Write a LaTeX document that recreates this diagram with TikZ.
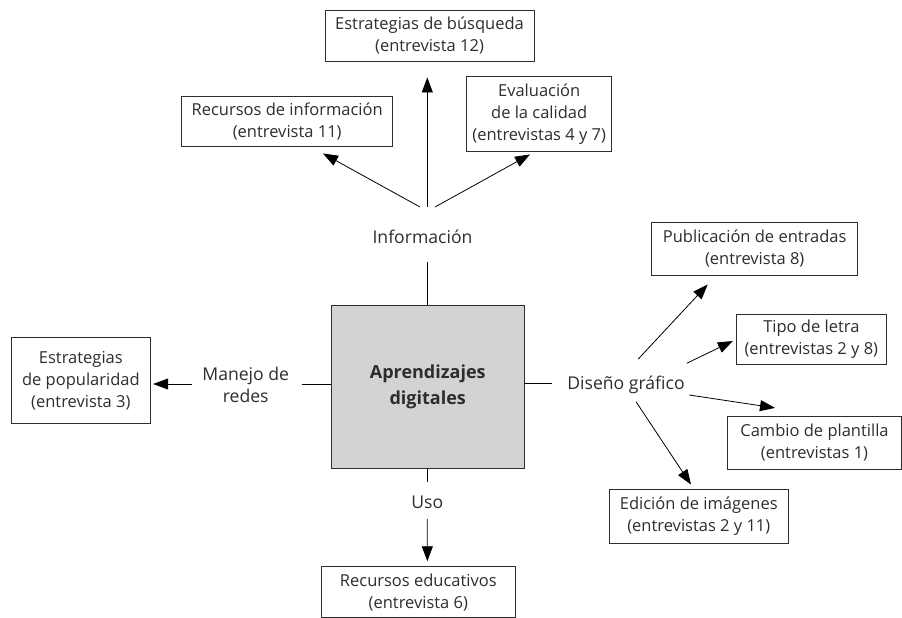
\documentclass[tikz,border=0pt]{standalone}
\usepackage{fontspec}
\setmainfont{Open Sans}
\usetikzlibrary{arrows.meta}
\definecolor{boxgray}{RGB}{211,211,213}
\definecolor{ink}{RGB}{45,45,45}
\begin{document}
\begin{tikzpicture}[x=1pt,y=-1pt,
  every node/.style={font=\fontsize{16.5}{22}\selectfont, text=ink, align=center, inner sep=0pt},
  lbl/.style={font=\fontsize{17.6}{22}\selectfont},
  bx/.style 2 args={draw=ink, line width=0.9pt, minimum width=#1pt, minimum height=#2pt},
  arr/.style={-{Triangle[length=15pt,width=11pt]}, line width=0.8pt, draw=black},
  ln/.style={line width=0.8pt, draw=black}]
\useasboundingbox (0,0) rectangle (902,618);
% central box
\node[bx={192.5}{162.8}, fill=boxgray, font=\bfseries\fontsize{18}{26}\selectfont] (central) at (427.75,386.9) {Aprendizajes\\digitales};
% boxes
\node[bx={209}{51}] (busq) at (429.5,35.5) {Estrategias de búsqueda\\(entrevista 12)};
\node[bx={211}{50}] (recinf) at (287.2,121.7) {Recursos de información\\(entrevista 11)};
\node[bx={145}{75}] (eval) at (539.2,114.2) {Evaluación\\de la calidad\\(entrevistas 4 y 7)};
\node[bx={138.3}{86}] (popul) at (80.85,380.3) {Estrategias\\de popularidad\\(entrevista 3)};
\node[bx={206}{52.7}] (pub) at (754.7,248.7) {Publicación de entradas\\(entrevista 8)};
\node[bx={149.3}{49.7}] (tipo) at (811.35,339.2) {Tipo de letra\\(entrevistas 2 y 8)};
\node[bx={174.3}{53.5}] (cambio) at (814.5,442.8) {Cambio de plantilla\\(entrevistas 1)};
\node[bx={179}{54}] (edic) at (698.8,516) {Edición de imágenes\\(entrevistas 2 y 11)};
\node[bx={193.3}{50.8}] (receduc) at (418.35,592.1) {Recursos educativos\\(entrevista 6)};
% labels
\node[lbl] (info) at (422.5,237) {Información};
\node[lbl] (manejo) at (245.7,384.5) {Manejo de\\redes};
\node[lbl] (uso) at (427.3,502.7) {Uso};
\node[lbl] (diseno) at (626,385) {Diseño gráfico};
% coordinates
\coordinate (tTop) at (427.3,261.7);
\coordinate (mL) at (301.7,384);
\coordinate (rR) at (551.7,383.3);
\coordinate (bB) at (427.3,481.7);
\coordinate (iL) at (420,207);
\coordinate (iM) at (427.3,207);
\coordinate (iR) at (435,207);
\coordinate (mA) at (191.7,384);
\coordinate (uA) at (427.3,519);
\coordinate (d1) at (638.3,359);
\coordinate (d2) at (686.7,363.3);
\coordinate (d3) at (689.3,395);
\coordinate (d4) at (636,401.7);
% plain lines
\draw[ln] (tTop) -- (tTop |- central.north);
\draw[ln] (mL) -- (mL -| central.west);
\draw[ln] (rR -| central.east) -- (rR);
\draw[ln] (bB |- central.south) -- (bB);
% arrows
\draw[arr] (iL) -- ([xshift=35.8pt,yshift=-6.3pt]recinf.south);
\draw[arr] (iM) -- ([xshift=-2.2pt,yshift=-16pt]busq.south);
\draw[arr] (iR) -- ([xshift=-9.2pt,yshift=-2.3pt]eval.south);
\draw[arr] (mA) -- ([xshift=2.7pt,yshift=-3.7pt]popul.east);
\draw[arr] (uA) -- ([xshift=9pt,yshift=5pt]receduc.north);
\draw[arr] (d1) -- ([xshift=-47pt,yshift=-9pt]pub.south);
\draw[arr] (d2) -- ([xshift=-3.4pt,yshift=-1.8pt]tipo.west);
\draw[arr] (d3) -- ([xshift=-39.5pt,yshift=7.7pt]cambio.north);
\draw[arr] (d4) -- ([xshift=-7.8pt,yshift=4pt]edic.north);
\end{tikzpicture}
\end{document}
